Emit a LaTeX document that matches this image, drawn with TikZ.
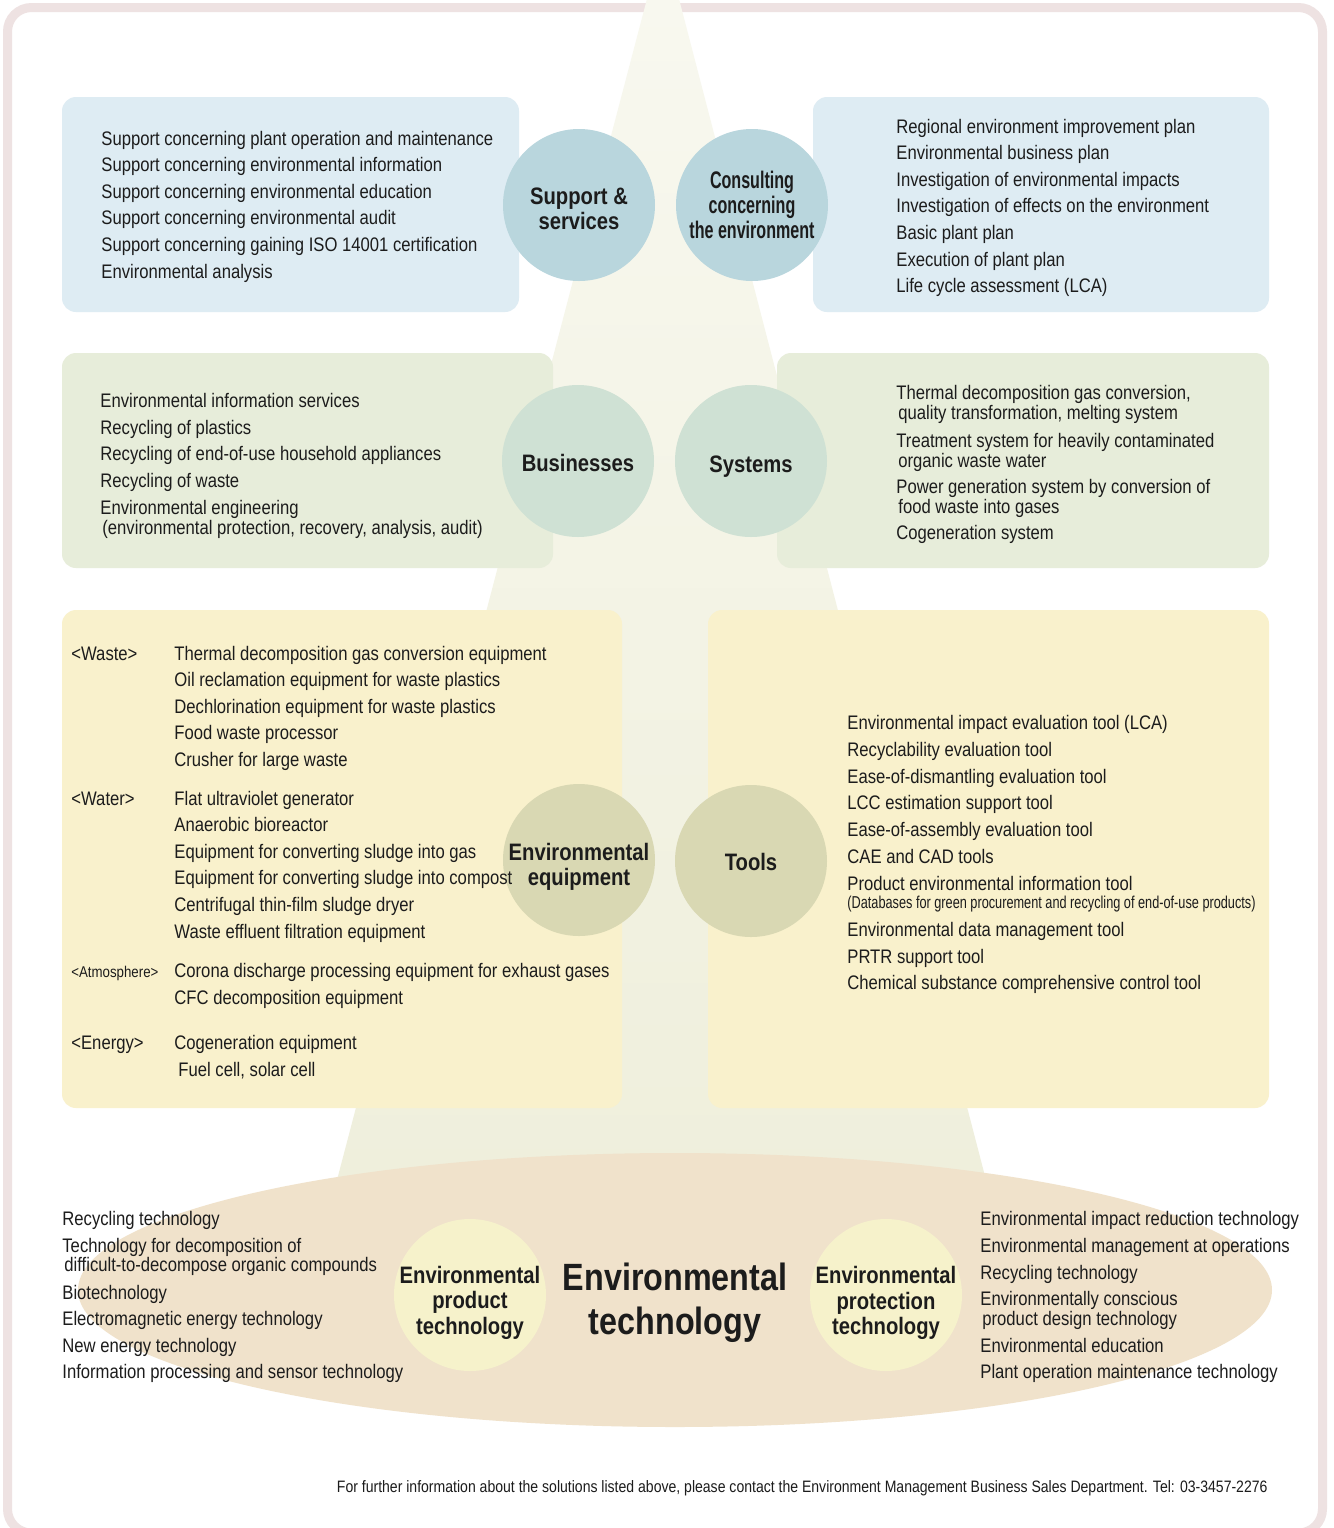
\documentclass[tikz,border=0pt]{standalone}
\usepackage{fontspec}
\setmainfont{Liberation Sans}[FakeStretch=0.85]
\newfontfamily\narrowfont{Liberation Sans}[FakeStretch=0.67]
\newfontfamily\notefont{Liberation Sans}[FakeStretch=0.74]

\definecolor{frameC}{HTML}{EEE2E2}
\definecolor{beamTop}{HTML}{F8F8EF}
\definecolor{beamBot}{HTML}{EFEFDC}
\definecolor{blueBox}{HTML}{DEECF3}
\definecolor{blueDot}{HTML}{B9D6DD}
\definecolor{greenBox}{HTML}{E7EDDA}
\definecolor{greenDot}{HTML}{CFE1D4}
\definecolor{yellowBox}{HTML}{F9F1CC}
\definecolor{yellowDot}{HTML}{D9D8B3}
\definecolor{baseOval}{HTML}{F0E2CB}
\definecolor{baseDot}{HTML}{F6F2CB}
\definecolor{ink}{HTML}{1C1C1C}

\begin{document}
\begin{tikzpicture}[x=0.5pt, y=-0.5pt,
    entry/.style={anchor=base west, inner sep=0pt, text=ink, font=\fontsize{9.8}{12}\selectfont},
    small/.style={entry, font=\fontsize{7.8}{9}\selectfont},
    panel/.style={rounded corners=7pt},
    hub/.style={circle, minimum size=76pt, inner sep=0pt},
    hubtext/.style={align=center, text=ink, inner sep=0pt,
        font=\bfseries\fontsize{11.9}{12.5}\selectfont}]
    % Fix the page and the frame
    \useasboundingbox (0,0) rectangle (1334,1528);
    \clip (0,0) rectangle (1334,1528);
    \fill[white] (0,0) rectangle (1334,1528);
    \draw[frameC, line width=4.5pt, rounded corners=12pt] (7.5,7.5) rectangle (1322.5,1533);

    % Draw the light beam behind the panels
    \shade[top color=beamTop, bottom color=beamBot] (648,-5) -- (678,-5) -- (986,1180) -- (337,1180) -- cycle;

    % Draw the panels
    \fill[blueBox, panel] (62,97) rectangle (519,312);
    \fill[blueBox, panel] (813,97) rectangle (1269,312);
    \fill[greenBox, panel] (62,353) rectangle (553,568);
    \fill[greenBox, panel] (777,353) rectangle (1269,568);
    \fill[yellowBox, panel] (62,610) rectangle (622,1108);
    \fill[yellowBox, panel] (708,610) rectangle (1269,1108);

    % Draw the base oval
    \fill[baseOval] (675,1290) ellipse [x radius=298.5pt, y radius=68.5pt];

    % Draw the circles with their titles
    \node[hub, fill=blueDot, label={[hubtext, yshift=-1.75pt]center:{Support \&\\services}}] (support) at (579,205) {};
    \node[hub, fill=blueDot, label={[hubtext, font=\narrowfont\bfseries\fontsize{12}{12.4}\selectfont]center:{Consulting\\concerning\\the environment}}] (consult) at (752,205) {};
    \node[hub, fill=greenDot, label={[hubtext, yshift=-1pt]center:Businesses}] (business) at (578,461) {};
    \node[hub, fill=greenDot, label={[hubtext, yshift=-3pt]center:Systems}] (systems) at (751,461) {};
    \node[hub, fill=yellowDot, label={[hubtext, yshift=-3.5pt]center:{Environmental\\equipment}}] (equip) at (579,860) {};
    \node[hub, fill=yellowDot, label={[hubtext, yshift=-0.5pt]center:Tools}] (tools) at (751,861) {};
    \node[hub, fill=baseDot, label={[hubtext, yshift=-3.75pt, font=\bfseries\fontsize{11.9}{12.75}\selectfont]center:{Environmental\\product\\technology}}] (prodtech) at (470,1295) {};
    \node[hub, fill=baseDot, label={[hubtext, yshift=-4pt, font=\bfseries\fontsize{11.9}{12.75}\selectfont]center:{Environmental\\protection\\technology}}] (prottech) at (886,1295) {};
    \node[inner sep=0pt, align=center, text=ink, font=\bfseries\fontsize{19}{22}\selectfont] (envtech) at (675,1303) {Environmental\\technology};

    % Support & services list
    \foreach \y/\t [count=\i] in {145/Support concerning plant operation and maintenance,
        171.6/Support concerning environmental information,
        198.2/Support concerning environmental education,
        224.8/Support concerning environmental audit,
        251.4/Support concerning gaining ISO 14001 certification,
        278/Environmental analysis}
        \node[entry] (sup\i) at (101,\y) {\t};

    % Consulting list
    \foreach \y/\t [count=\i] in {133/Regional environment improvement plan,
        159.6/Environmental business plan,
        186.2/Investigation of environmental impacts,
        212.8/Investigation of effects on the environment,
        239.4/Basic plant plan,
        266/Execution of plant plan,
        292.6/Life cycle assessment (LCA)}
        \node[entry] (con\i) at (896,\y) {\t};

    % Businesses list
    \foreach \x/\y/\t [count=\i] in {100/407/Environmental information services,
        100/434/Recycling of plastics,
        100/460/Recycling of end-of-use household appliances,
        100/487/Recycling of waste,
        100/514/Environmental engineering,
        102/534/{(environmental protection, recovery, analysis, audit)}}
        \node[entry] (bus\i) at (\x,\y) {\t};

    % Systems list
    \foreach \x/\y/\t [count=\i] in {896/399/{Thermal decomposition gas conversion,},
        898/419/{quality transformation, melting system},
        896/447/Treatment system for heavily contaminated,
        898/467/organic waste water,
        896/493/Power generation system by conversion of,
        898/513/food waste into gases,
        896/539/Cogeneration system}
        \node[entry] (sys\i) at (\x,\y) {\t};

    % Environmental equipment list
    \node[entry] (waste) at (71,660) {<Waste>};
    \node[entry] (water) at (71,805) {<Water>};
    \node[small] (atmo) at (71,977) {<Atmosphere>};
    \node[entry] (energy) at (71,1049) {<Energy>};
    \foreach \x/\y/\t [count=\i] in {174/660/Thermal decomposition gas conversion equipment,
        174/686.6/Oil reclamation equipment for waste plastics,
        174/713.2/Dechlorination equipment for waste plastics,
        174/739.8/Food waste processor,
        174/766.4/Crusher for large waste,
        174/805/Flat ultraviolet generator,
        174/831.6/Anaerobic bioreactor,
        174/858.2/Equipment for converting sludge into gas,
        174/884.8/Equipment for converting sludge into compost,
        174/911.4/Centrifugal thin-film sludge dryer,
        174/938/Waste effluent filtration equipment,
        174/977/Corona discharge processing equipment for exhaust gases,
        174/1004/CFC decomposition equipment,
        174/1049/Cogeneration equipment,
        178/1076/{Fuel cell, solar cell}}
        \node[entry] (eq\i) at (\x,\y) {\t};

    % Tools list
    \foreach \y/\t [count=\i] in {729/Environmental impact evaluation tool (LCA),
        756/Recyclability evaluation tool,
        783/Ease-of-dismantling evaluation tool,
        809/LCC estimation support tool,
        836/Ease-of-assembly evaluation tool,
        863/CAE and CAD tools,
        890/Product environmental information tool,
        936/Environmental data management tool,
        963/PRTR support tool,
        989/Chemical substance comprehensive control tool}
        \node[entry] (tool\i) at (847,\y) {\t};
    \node[entry, font=\notefont\fontsize{8.6}{10}\selectfont] (toolnote) at (847,908) {(Databases for green procurement and recycling of end-of-use products)};

    % Product technology list
    \foreach \x/\y/\t [count=\i] in {62/1225/Recycling technology,
        62/1252/Technology for decomposition of,
        64/1271/difficult-to-decompose organic compounds,
        62/1299/Biotechnology,
        62/1325/Electromagnetic energy technology,
        62/1352/New energy technology,
        62/1378/Information processing and sensor technology}
        \node[entry] (pt\i) at (\x,\y) {\t};

    % Protection technology list
    \foreach \x/\y/\t [count=\i] in {980/1225/Environmental impact reduction technology,
        980/1252/Environmental management at operations,
        980/1279/Recycling technology,
        980/1305/Environmentally conscious,
        982/1325/product design technology,
        980/1352/Environmental education,
        980/1378/Plant operation maintenance technology}
        \node[entry] (pr\i) at (\x,\y) {\t};

    % Contact line
    \node[entry, anchor=base east, font=\fontsize{8.26}{9}\selectfont] (contact) at (1268,1492) {For further information about the solutions listed above, please contact the Environment Management Business Sales Department. Tel: 03-3457-2276};
\end{tikzpicture}
\end{document}
